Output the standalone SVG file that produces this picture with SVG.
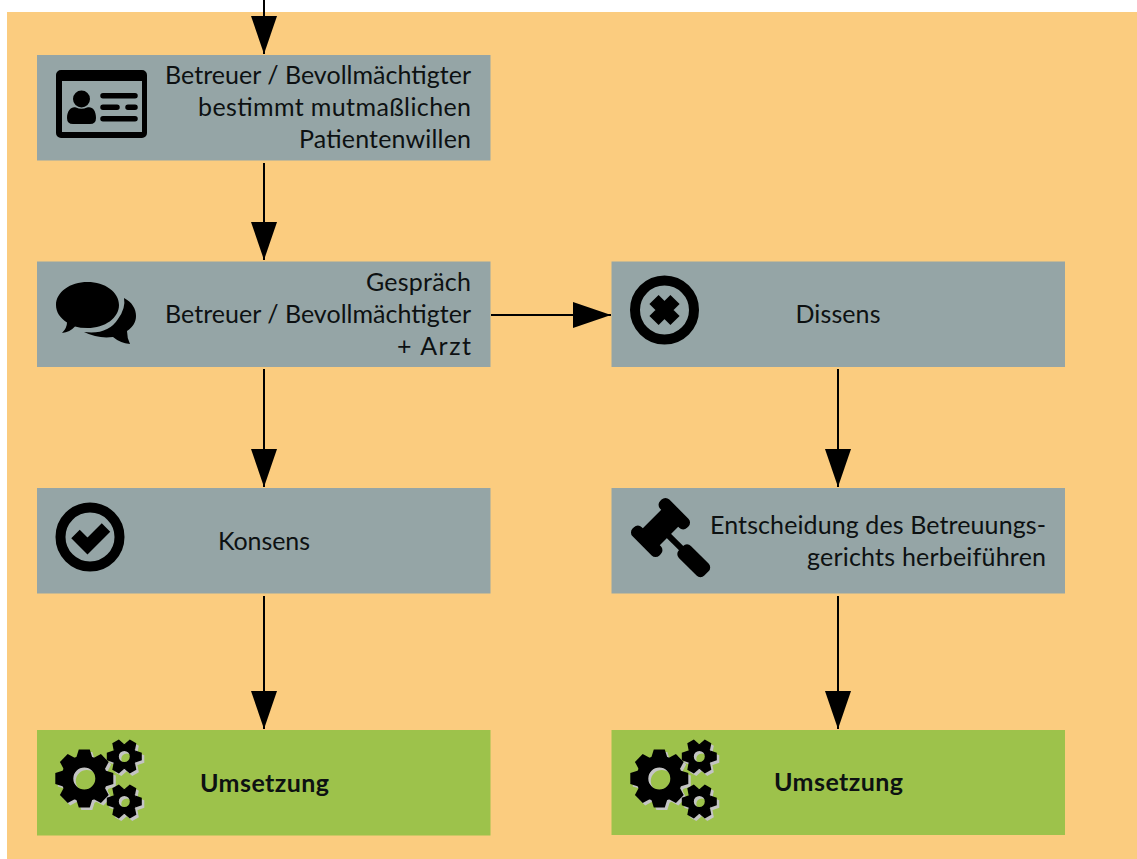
<svg xmlns="http://www.w3.org/2000/svg" width="1137" height="859" viewBox="0 0 1137 859">
<style>
.bg{fill:#fbcc7f}
.grey{fill:#95a5a6}
.green{fill:#9dc24b}
text{font-family:"Lato","Liberation Sans",sans-serif;font-size:25px;fill:#0d1112}
.e{text-anchor:end}
.m{text-anchor:middle}
.b{font-weight:700}
.c{fill:none;stroke:#000;stroke-width:2;marker-end:url(#arr)}
.ring{fill:none;stroke:#000;stroke-width:10}
</style>
<defs>
<marker id="arr" markerUnits="userSpaceOnUse" markerWidth="39" markerHeight="26" refX="38" refY="13" orient="auto"><path d="M0 0L38 13L0 26Z" fill="#000"/></marker>
<path id="tL" d="M-5.500-29H5.500L8-21H-8Z"/>
<path id="tS" d="M-3.800-17.500H3.800L6-11H-6Z"/>
<g id="gearL"><path fill-rule="evenodd" d="M-23 0a23 23 0 1 0 46 0a23 23 0 1 0-46 0ZM-11 0a11 11 0 1 1 22 0a11 11 0 1 1-22 0Z"/><use href="#tL"/><use href="#tL" transform="rotate(45)"/><use href="#tL" transform="rotate(90)"/><use href="#tL" transform="rotate(135)"/><use href="#tL" transform="rotate(180)"/><use href="#tL" transform="rotate(225)"/><use href="#tL" transform="rotate(270)"/><use href="#tL" transform="rotate(315)"/></g>
<g id="gearS"><path fill-rule="evenodd" d="M-12.500 0a12.500 12.500 0 1 0 25 0a12.500 12.500 0 1 0-25 0ZM-5.500 0a5.500 5.500 0 1 1 11 0a5.500 5.500 0 1 1-11 0Z"/><use href="#tS" transform="rotate(30)"/><use href="#tS" transform="rotate(90)"/><use href="#tS" transform="rotate(150)"/><use href="#tS" transform="rotate(210)"/><use href="#tS" transform="rotate(270)"/><use href="#tS" transform="rotate(330)"/></g>
<g id="gears">
<g fill="#c4c4c4" transform="translate(2.500 2.500)"><use href="#gearL" x="84.300" y="778.500"/><use href="#gearS" x="124.300" y="756.500"/><use href="#gearS" x="124.300" y="801.500"/></g>
<g fill="#000"><use href="#gearL" x="84.300" y="778.500"/><use href="#gearS" x="124.300" y="756.500"/><use href="#gearS" x="124.300" y="801.500"/></g>
</g>
</defs>
<rect class="bg" x="7" y="12" width="1130" height="847"/>
<g id="connectors">
<path class="c" d="M264 0V54"/>
<path class="c" d="M264 163V260"/>
<path class="c" d="M264 369V487"/>
<path class="c" d="M264 596V729"/>
<path class="c" d="M491 315H611"/>
<path class="c" d="M838 369V487"/>
<path class="c" d="M838 596V729"/>
</g>
<g id="n1"><rect class="grey" x="37" y="55" width="453.500" height="105.500"/>
<path fill-rule="evenodd" d="M61 70H142a5 5 0 0 1 5 5V133a5 5 0 0 1-5 5H61a5 5 0 0 1-5-5V75a5 5 0 0 1 5-5ZM62 81V132H142V81Z"/>
<circle cx="81.500" cy="99" r="8.500"/><path d="M67 118C67 110 72 106 76 107.500Q81.500 110 87 107.500C92 106 96 110 96 118Q96 124 90 124H73Q67 124 67 118Z"/>
<path d="M103 93H135a1.500 1.500 0 0 1 0 5.500H103a1.500 1.500 0 0 1 0-5.500ZM103 104.500H117a1.500 1.500 0 0 1 0 5.500H103a1.500 1.500 0 0 1 0-5.500ZM128 104.500H135a1.500 1.500 0 0 1 0 5.500H128a1.500 1.500 0 0 1 0-5.500ZM103 116H135a1.500 1.500 0 0 1 0 5.500H103a1.500 1.500 0 0 1 0-5.500Z"/>
<text class="e" x="471" y="84" textLength="306">Betreuer / Bevollmächtigter</text><text class="e" x="471" y="116" textLength="273">bestimmt mutmaßlichen</text><text class="e" x="471" y="148" textLength="172">Patientenwillen</text></g>
<g id="n2"><rect class="grey" x="37" y="261.500" width="453.500" height="105.500"/>
<path d="M87.500 282C105 282 119 292 119 305C119 318 105 328 87.500 328Q80 328 75 326.500Q70 332 62 333Q67 328 67 322.500C60 318 56 312 56 305C56 292 70 282 87.500 282Z"/>
<path d="M124 298C132 302 136 309 136 316C136 322 133 327 127 331Q127 338 130 344Q120 343 113 337Q98 339 84 332Q108 335 118 319Q126 308 124 298Z"/>
<text class="e" x="471" y="291" textLength="105">Gespräch</text><text class="e" x="471" y="323" textLength="306">Betreuer / Bevollmächtigter</text><text class="e" x="471" y="355" textLength="74">+ Arzt</text></g>
<g id="n3"><rect class="grey" x="611.500" y="261.500" width="453.500" height="105.500"/>
<circle class="ring" cx="664.500" cy="310" r="29.500"/>
<path d="M654 299.500L675 320.500M675 299.500L654 320.500" stroke="#000" stroke-width="13" fill="none"/>
<text class="m" x="838" y="323" textLength="85">Dissens</text></g>
<g id="n4"><rect class="grey" x="37" y="488" width="453.500" height="105.500"/>
<circle class="ring" cx="90" cy="537" r="29.500"/>
<path d="M75.500 534L87.500 546L106 527.500" stroke="#000" stroke-width="12" fill="none"/>
<text class="m" x="264" y="550" textLength="92">Konsens</text></g>
<g id="n5"><rect class="grey" x="611.500" y="488" width="453.500" height="105.500"/>
<g transform="translate(660.500 527.500) rotate(45)"><rect x="-19" y="-26" width="38" height="13" rx="5.500"/><rect x="-19" y="13" width="38" height="13" rx="5.500"/><rect x="-12" y="-19" width="24" height="38"/><rect x="10" y="-3" width="22" height="6"/><rect x="29" y="-8.500" width="36" height="17" rx="5.500"/></g>
<text class="e" x="1046" y="534" textLength="336">Entscheidung des Betreuungs-</text><text class="e" x="1046" y="566" textLength="239">gerichts herbeiführen</text></g>
<g id="n6"><rect class="green" x="37" y="730" width="453.500" height="105.500"/><use href="#gears"/><text class="m b" x="264.500" y="792" textLength="129">Umsetzung</text></g>
<g id="n7"><rect class="green" x="611.500" y="730" width="453.500" height="105"/><use href="#gears" x="575"/><text class="m b" x="838.500" y="791" textLength="129">Umsetzung</text></g>
</svg>
